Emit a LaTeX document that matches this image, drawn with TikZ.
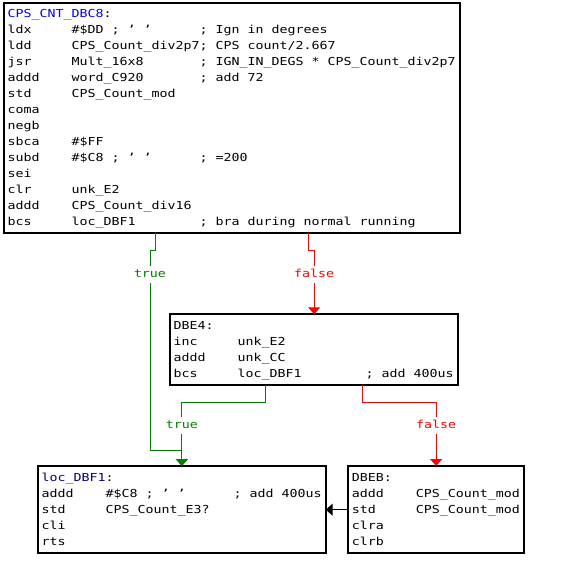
\documentclass[tikz,border=0pt]{standalone}
\usepackage{fontspec}
\usetikzlibrary{arrows.meta}
% monospaced listing font, widened to an 8pt character cell
\newfontfamily\asmfont[FakeStretch=1.208]{DejaVu Sans Mono}
\definecolor{truegreen}{HTML}{008000}
\definecolor{falsered}{HTML}{FF0000}
\definecolor{lblblue}{HTML}{0000FF}
\definecolor{lblnavy}{HTML}{000080}
\newenvironment{asmlist}{\begin{tabular}{@{}p{64pt}@{}p{128pt}@{}l@{}}}{\end{tabular}}
\begin{document}
\begin{tikzpicture}[x=1pt,y=-1pt,
  block/.style={draw=black, line width=2pt, fill=white, inner sep=0pt, outer sep=0pt, anchor=north west},
  listing/.style={inner sep=0pt, outer sep=0pt, anchor=north west, font=\asmfont\fontsize{11pt}{16pt}\selectfont},
  edge/.style={line width=1pt, -{Triangle[width=12pt,length=7pt]}},
  lbl/.style={fill=white, inner xsep=1pt, inner ysep=4pt, text height=8pt, text depth=1pt,
              font=\asmfont\fontsize{11pt}{16pt}\selectfont}]
\useasboundingbox (0,0) rectangle (563,582);

% basic blocks
\node[block, minimum width=455.7pt, minimum height=230.8pt] (top) at (4,2.5) {};
\node[block, minimum width=288.3pt, minimum height=70.7pt] (dbe4) at (170,314.3) {};
\node[block, minimum width=287.7pt, minimum height=87.3pt] (dbf1) at (38,466) {};
\node[block, minimum width=175.7pt, minimum height=87.3pt] (dbeb) at (348.3,466) {};

% listings
\node[listing] (toptext) at ([shift={(3.6,3.8)}]top.north west) {\begin{asmlist}
\multicolumn{3}{@{}l@{}}{\textcolor{lblblue}{CPS\_CNT\_DBC8}:}\\
ldx & \#\$DD ; ’ ’ & ; Ign in degrees\\
ldd & CPS\_Count\_div2p7 & ; CPS count/2.667\\
jsr & Mult\_16x8 & ; IGN\_IN\_DEGS * CPS\_Count\_div2p7\\
addd & word\_C920 & ; add 72\\
std & CPS\_Count\_mod & \\
coma & & \\
negb & & \\
sbca & \#\$FF & \\
subd & \#\$C8 ; ’ ’ & ; =200\\
sei & & \\
clr & unk\_E2 & \\
addd & CPS\_Count\_div16 & \\
bcs & loc\_DBF1 & ; bra during normal running
\end{asmlist}};

\node[listing] (dbe4text) at ([shift={(3.6,4.4)}]dbe4.north west) {\begin{asmlist}
\multicolumn{3}{@{}l@{}}{DBE4:}\\
inc & unk\_E2 & \\
addd & unk\_CC & \\
bcs & loc\_DBF1 & ; add 400us
\end{asmlist}};

\node[listing] (dbf1text) at ([shift={(3.6,4.2)}]dbf1.north west) {\begin{asmlist}
\multicolumn{3}{@{}l@{}}{\textcolor{lblnavy}{loc\_DBF1}:}\\
addd & \#\$C8 ; ’ ’ & ; add 400us\\
std & CPS\_Count\_E3? & \\
cli & & \\
rts & &
\end{asmlist}};

\node[listing] (dbebtext) at ([shift={(3.6,4.2)}]dbeb.north west) {\begin{asmlist}
\multicolumn{3}{@{}l@{}}{DBEB:}\\
addd & CPS\_Count\_mod & \\
std & CPS\_Count\_mod & \\
clra & & \\
clrb & &
\end{asmlist}};

% branch edges
\draw[edge, truegreen] ([xshift=151.7pt]top.south west) -- ++(0,16.7) -- ++(-5.7,0)
  -- node[lbl, text=truegreen, pos=0.12] {true} ++(0,200) -| (dbf1.north);
\draw[edge, falsered] ([xshift=304.7pt]top.south west) -- ++(0,16.7)
  -| node[lbl, text=falsered, pos=0.687] {false} (dbe4.north);
\draw[edge, truegreen] ([xshift=95.7pt]dbe4.south west) -- ++(0,17.3)
  -| node[lbl, text=truegreen, pos=0.68] {true} (dbf1.north);
\draw[edge, falsered] ([xshift=192.3pt]dbe4.south west) -- ++(0,17.3)
  -| node[lbl, text=falsered, pos=0.68] {false} (dbeb.north);
\draw[edge, black] (dbeb.west) -- (dbf1.east);
\end{tikzpicture}
\end{document}
